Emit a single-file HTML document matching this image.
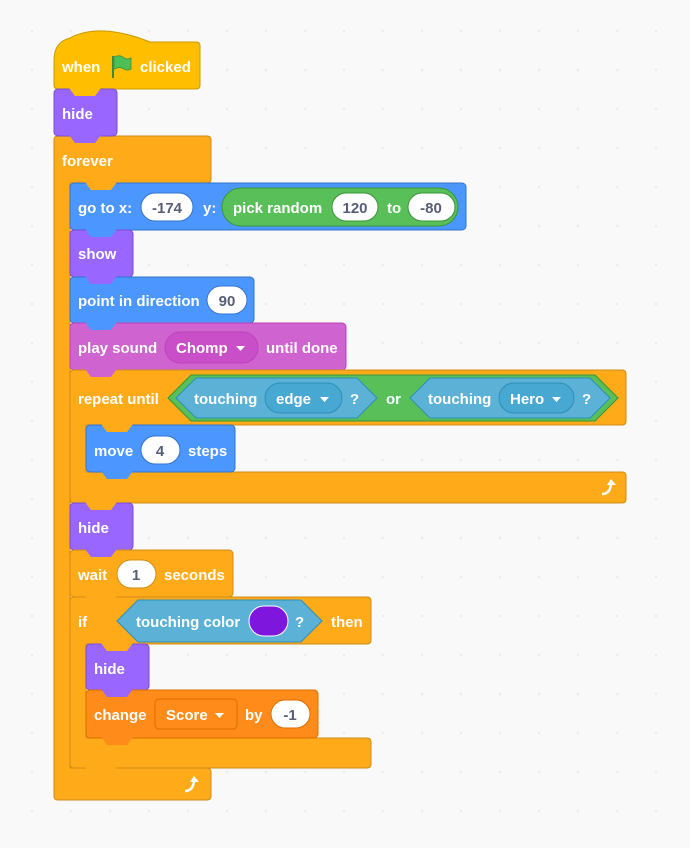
<!DOCTYPE html>
<html><head><meta charset="utf-8"><style>
html,body{margin:0;padding:0;background:#f9f9f9;}
svg{display:block}
text{font-family:"Liberation Sans",sans-serif;font-weight:bold;font-size:15px;fill:#fff;dominant-baseline:central;transform:translateY(1.5px)}
.in{fill:#575E75;text-anchor:middle}
</style></head><body>
<svg width="690" height="848" viewBox="0 0 690 848">
<defs>
<pattern id="g" width="39" height="39" patternUnits="userSpaceOnUse" x="13" y="12">
<path d="M19 17.5v3M17.5 19h3" stroke="#e4e4e4" stroke-width="0.7"/>
</pattern>
</defs>
<rect width="690" height="848" fill="#f9f9f9"/>
<rect width="690" height="848" fill="url(#g)"/>

<!-- hat -->
<path d="M54 60 Q54 42 70 38 Q100 22 150 42 L196 42 Q200 42 200 46 L200 85 Q200 89 196 89 L58 89 Q54 89 54 85 Z" fill="#FFBF00" stroke="#CC9900"/>
<!-- forever C -->
<path d="M58 136 H207 Q211 136 211 140 V179 Q211 183 207 183 H70 V768 H207 Q211 768 211 772 V796 Q211 800 207 800 H58 Q54 800 54 796 V140 Q54 136 58 136Z" fill="#FFAB19" stroke="#CF8B17"/>
<rect x="54" y="89" width="63" height="47" rx="4" fill="#9966FF" stroke="#774DCB"/>
<rect x="70" y="183" width="396" height="47" rx="4" fill="#4C97FF" stroke="#3373CC"/>
<rect x="70" y="230" width="63" height="47" rx="4" fill="#9966FF" stroke="#774DCB"/>
<rect x="70" y="277" width="184" height="46" rx="4" fill="#4C97FF" stroke="#3373CC"/>
<rect x="70" y="323" width="276" height="47" rx="4" fill="#CF63CF" stroke="#BD42BD"/>
<!-- repeat until C -->
<path d="M74 370 H622 Q626 370 626 374 V421 Q626 425 622 425 H86 V472 H622 Q626 472 626 476 V499 Q626 503 622 503 H74 Q70 503 70 499 V374 Q70 370 74 370Z" fill="#FFAB19" stroke="#CF8B17"/>
<rect x="86" y="425" width="149" height="47" rx="4" fill="#4C97FF" stroke="#3373CC"/>
<rect x="70" y="503" width="63" height="47" rx="4" fill="#9966FF" stroke="#774DCB"/>
<rect x="70" y="550" width="163" height="47" rx="4" fill="#FFAB19" stroke="#CF8B17"/>
<!-- if C -->
<path d="M74 597 H367 Q371 597 371 601 V640 Q371 644 367 644 H86 V738 H367 Q371 738 371 742 V764 Q371 768 367 768 H74 Q70 768 70 764 V601 Q70 597 74 597Z" fill="#FFAB19" stroke="#CF8B17"/>
<rect x="86" y="644" width="63" height="46" rx="4" fill="#9966FF" stroke="#774DCB"/>
<rect x="86" y="690" width="232" height="48" rx="4" fill="#FF8C1A" stroke="#DB6E00"/>

<!-- tabs -->
<g>
<path d="M69 88 L75 96 H95 L101 88Z" fill="#FFBF00"/>
<path d="M69 135 L75 143 H95 L101 135Z" fill="#9966FF"/>
<path d="M85 182 L91 190 H111 L117 182Z" fill="#FFAB19"/>
<path d="M85 229 L91 237 H111 L117 229Z" fill="#4C97FF"/>
<path d="M85 276 L91 284 H111 L117 276Z" fill="#9966FF"/>
<path d="M85 322 L91 330 H111 L117 322Z" fill="#4C97FF"/>
<path d="M85 369 L91 377 H111 L117 369Z" fill="#CF63CF"/>
<path d="M101 424 L107 432 H127 L133 424Z" fill="#FFAB19"/>
<path d="M101 471 L107 479 H127 L133 471Z" fill="#4C97FF"/>
<path d="M85 502 L91 510 H111 L117 502Z" fill="#FFAB19"/>
<path d="M85 549 L91 557 H111 L117 549Z" fill="#9966FF"/>
<path d="M85 596 L91 604 H111 L117 596Z" fill="#FFAB19"/>
<path d="M101 643 L107 651 H127 L133 643Z" fill="#FFAB19"/>
<path d="M101 689 L107 697 H127 L133 689Z" fill="#9966FF"/>
<path d="M101 737 L107 745 H127 L133 737Z" fill="#FF8C1A"/>
<path d="M85 767 L91 775 H111 L117 767Z" fill="#FFAB19"/>
</g>

<text x="62" y="66">when</text>
<path d="M113 56 V78" stroke="#3d8a3d" stroke-width="2"/>
<path d="M114 57 Q120 54 124 58 Q127 60 131 58 V69 Q127 71 124 69 Q120 66 114 69Z" fill="#4CBF56" stroke="#45993d"/>
<text x="140" y="66">clicked</text>
<text x="62" y="113">hide</text>
<text x="62" y="160">forever</text>

<text x="78" y="207">go to x:</text>
<rect x="141" y="193" width="52" height="28" rx="14" fill="#fff" stroke="#3373CC"/>
<text class="in" x="167" y="207">-174</text>
<text x="203" y="207">y:</text>
<rect x="222" y="188" width="236" height="38" rx="19" fill="#59C059" stroke="#389438"/>
<text x="233" y="207">pick random</text>
<rect x="332" y="193" width="46" height="28" rx="14" fill="#fff" stroke="#389438"/>
<text class="in" x="355" y="207">120</text>
<text x="387" y="207">to</text>
<rect x="408" y="193" width="47" height="28" rx="14" fill="#fff" stroke="#389438"/>
<text class="in" x="431" y="207">-80</text>

<text x="78" y="253">show</text>
<text x="78" y="300">point in direction</text>
<rect x="207" y="286" width="40" height="28" rx="14" fill="#fff" stroke="#3373CC"/>
<text class="in" x="227" y="300">90</text>

<text x="78" y="347">play sound</text>
<rect x="165" y="332" width="93" height="31" rx="15.5" fill="#C94FC9" stroke="#BD42BD"/>
<text x="176" y="347">Chomp</text>
<path d="M236 346 h9 l-4.5 5z" fill="#fff"/>
<text x="266" y="347">until done</text>

<text x="78" y="398">repeat until</text>
<polygon points="168,398 191,375 595,375 618,398 595,421 191,421" fill="#59C059" stroke="#389438"/>
<polygon points="176,398 196,378 357,378 377,398 357,418 196,418" fill="#5CB1D6" stroke="#2E8EB8"/>
<text x="194" y="398">touching</text>
<rect x="265" y="383" width="77" height="30" rx="15" fill="#47A8D1" stroke="#2E8EB8"/>
<text x="276" y="398">edge</text>
<path d="M320 397 h9 l-4.5 5z" fill="#fff"/>
<text x="350" y="398">?</text>
<text x="386" y="398">or</text>
<polygon points="410,398 430,378 590,378 610,398 590,418 430,418" fill="#5CB1D6" stroke="#2E8EB8"/>
<text x="428" y="398">touching</text>
<rect x="499" y="383" width="75" height="30" rx="15" fill="#47A8D1" stroke="#2E8EB8"/>
<text x="510" y="398">Hero</text>
<path d="M552 397 h9 l-4.5 5z" fill="#fff"/>
<text x="582" y="398">?</text>

<text x="94" y="450">move</text>
<rect x="141" y="436" width="39" height="28" rx="14" fill="#fff" stroke="#3373CC"/>
<text class="in" x="160" y="450">4</text>
<text x="188" y="450">steps</text>
<path d="M602 494 Q610 494 611 484" stroke="#fff" stroke-width="2.5" fill="none"/>
<path d="M607 485 L611 479 L616 485Z" fill="#fff"/>

<text x="78" y="527">hide</text>
<text x="78" y="574">wait</text>
<rect x="117" y="560" width="39" height="28" rx="14" fill="#fff" stroke="#CF8B17"/>
<text class="in" x="136" y="574">1</text>
<text x="164" y="574">seconds</text>

<text x="78" y="621">if</text>
<polygon points="117,621 138,600 301,600 322,621 301,642 138,642" fill="#5CB1D6" stroke="#2E8EB8"/>
<text x="136" y="621">touching color</text>
<rect x="249" y="606" width="39" height="30" rx="15" fill="#7F16DD" stroke="#fff"/>
<text x="295" y="621">?</text>
<text x="331" y="621">then</text>

<text x="94" y="668">hide</text>
<text x="94" y="714">change</text>
<rect x="155" y="699" width="82" height="30" rx="4" fill="#FF8C1A" stroke="#DB6E00"/>
<text x="166" y="714">Score</text>
<path d="M215 713 h9 l-4.5 5z" fill="#fff"/>
<text x="245" y="714">by</text>
<rect x="271" y="700" width="39" height="28" rx="14" fill="#fff" stroke="#DB6E00"/>
<text class="in" x="290" y="714">-1</text>

<path d="M185 791 Q193 791 194 781" stroke="#fff" stroke-width="2.5" fill="none"/>
<path d="M190 782 L194 776 L199 782Z" fill="#fff"/>
</svg>
</body></html>
